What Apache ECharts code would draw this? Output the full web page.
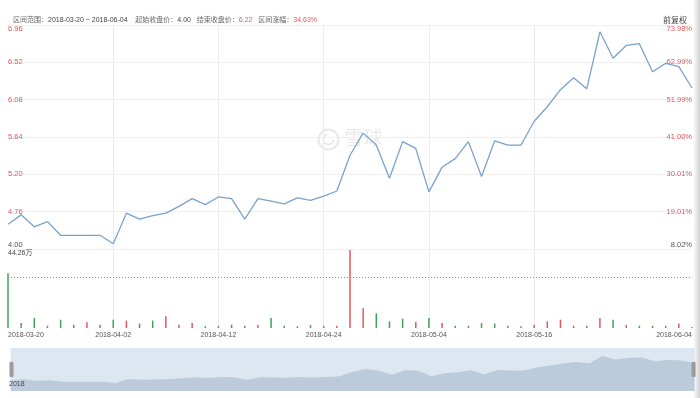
<!DOCTYPE html>
<html lang="zh-CN">
<head>
<meta charset="UTF-8">
<title>区间走势</title>
<script src="https://cdn.jsdelivr.net/npm/echarts@6/dist/echarts.min.js"></script>
<style>
  html, body { margin: 0; padding: 0; background: #fff; }
  #main { width: 700px; height: 398px; }
</style>
</head>
<body>
<div id="main"></div>
<script>
// 区间数据
var dates = [
  '2018-03-20','2018-03-21','2018-03-22','2018-03-23','2018-03-26','2018-03-27','2018-03-28','2018-03-29','2018-04-02',
  '2018-04-03','2018-04-04','2018-04-05','2018-04-06','2018-04-09','2018-04-10','2018-04-11','2018-04-12',
  '2018-04-13','2018-04-16','2018-04-17','2018-04-18','2018-04-19','2018-04-20','2018-04-23','2018-04-24',
  '2018-04-25','2018-04-26','2018-04-27','2018-04-28','2018-04-30','2018-05-02','2018-05-03','2018-05-04',
  '2018-05-07','2018-05-08','2018-05-09','2018-05-10','2018-05-11','2018-05-14','2018-05-15','2018-05-16',
  '2018-05-17','2018-05-18','2018-05-21','2018-05-22','2018-05-23','2018-05-24','2018-05-25','2018-05-28',
  '2018-05-29','2018-05-30','2018-05-31','2018-06-04'
];
var closes = [
  4.62, 4.73, 4.59, 4.65, 4.49, 4.49, 4.49, 4.49, 4.39,
  4.75, 4.68, 4.72, 4.75, 4.83, 4.92, 4.85, 4.94,
  4.92, 4.68, 4.92, 4.89, 4.86, 4.93, 4.90, 4.95,
  5.01, 5.43, 5.69, 5.55, 5.16, 5.59, 5.51, 5.00,
  5.29, 5.39, 5.59, 5.18, 5.60, 5.55, 5.55, 5.83,
  6.00, 6.20, 6.34, 6.21, 6.88, 6.57, 6.72, 6.74,
  6.41, 6.51, 6.47, 6.22
];
// 成交量（万）
var volumes = [
  31.0, 2.8, 5.7, 1.3, 4.7, 1.9, 3.2, 1.9, 4.7,
  4.2, 2.5, 4.2, 6.6, 1.9, 2.8, 1.0, 1.3,
  1.9, 1.3, 1.9, 5.7, 1.3, 1.0, 1.7, 1.3,
  1.3, 44.26, 11.2, 8.3, 3.8, 5.3, 3.4, 5.7,
  2.8, 1.3, 1.3, 2.8, 2.5, 1.3, 1.0, 1.9,
  3.8, 4.7, 1.3, 1.3, 5.7, 4.7, 1.7, 1.3,
  1.3, 1.3, 2.5, 0.6
];
// 1 = 涨（红） 0 = 跌（绿）
var volUp = [
  0, 0, 0, 1, 0, 0, 1, 0, 0,
  1, 0, 0, 1, 1, 1, 0, 1,
  0, 0, 1, 0, 0, 1, 0, 1,
  1, 1, 1, 0, 0, 0, 1, 0,
  1, 0, 1, 0, 0, 1, 0, 1,
  1, 1, 1, 0, 1, 0, 1, 0,
  0, 1, 1, 0
];
var priceTicks = ['6.96', '6.52', '6.08', '5.64', '5.20', '4.76', '4.00'];
var pctTicks = ['73.98%', '62.99%', '51.99%', '41.00%', '30.01%', '19.01%', '8.02%'];
var basePrice = 4.00;
var priceMax = 6.96;
var volMax = 44.26;
var rangeStart = '2018-03-20';
var rangeEnd = '2018-06-04';
var startClose = '4.00';
var endClose = '6.22';
var changePct = '34.63%';

var RED = '#e4575d';
var GREEN = '#3fa35a';
var FONT = '"Liberation Sans", "Noto Sans CJK SC", sans-serif';

function showLabel(idx) {
  return (idx % 8 === 0 && idx <= 40) || idx === dates.length - 1;
}
function showSplit(idx) {
  return idx % 8 === 0 && idx > 0 && idx <= 40;
}

var myChart = echarts.init(document.getElementById('main'));
myChart.setOption({
  backgroundColor: '#fff',
  animation: false,
  textStyle: { fontFamily: FONT },
  title: [
    {
      left: 8, top: 12,
      text: '{g|区间范围：}{d|' + rangeStart + ' ~ ' + rangeEnd + '}{g|    起始收盘价：}{d|' + startClose +
            '}{g|   结束收盘价：}{r|' + endClose + '}{g|   区间涨幅：}{r|' + changePct + '}',
      textStyle: {
        fontSize: 7, fontWeight: 'normal', fontFamily: FONT,
        rich: {
          g: { fontSize: 7, fontWeight: 'normal', color: '#666', fontFamily: FONT },
          d: { fontSize: 7, fontWeight: 'normal', color: '#444', fontFamily: FONT },
          r: { fontSize: 7, fontWeight: 'normal', color: RED, fontFamily: FONT }
        }
      }
    },
    {
      right: 8, top: 12,
      text: '前复权',
      textStyle: { fontSize: 8, color: '#444', fontWeight: 'normal', fontFamily: FONT }
    }
  ],
  grid: [
    { left: 8, right: 8, top: 25, height: 224 },   // 刻度网格
    { left: 8, right: 8, top: 25, height: 252 },   // 价格
    { left: 8, right: 8, top: 250, height: 78 }    // 成交量
  ],
  xAxis: [
    {
      gridIndex: 0, type: 'category', data: dates, boundaryGap: false,
      axisLine: { show: false }, axisTick: { show: false }, axisLabel: { show: false },
      splitLine: { show: true, interval: showSplit, lineStyle: { color: '#ececec', width: 1 } }
    },
    {
      gridIndex: 1, type: 'category', data: dates, boundaryGap: false, show: false
    },
    {
      gridIndex: 2, type: 'category', data: dates, boundaryGap: false,
      axisLine: { show: false }, axisTick: { show: false },
      axisLabel: {
        interval: showLabel, fontSize: 7, color: '#555', margin: 4,
        alignMinLabel: 'left', alignMaxLabel: 'right'
      },
      splitLine: { show: true, interval: showSplit, lineStyle: { color: '#ececec', width: 1 } }
    }
  ],
  yAxis: [
    {
      gridIndex: 0, type: 'value', min: 0, max: 6, interval: 1, position: 'left',
      axisLine: { show: false }, axisTick: { show: false },
      axisLabel: {
        inside: true, margin: 0, fontSize: 7.5,
        formatter: function (v) { return priceTicks[6 - v]; },
        color: function (v) { return Number(v) === 0 ? '#555' : RED; },
        verticalAlignMaxLabel: 'top', verticalAlignMinLabel: 'bottom'
      },
      splitLine: { lineStyle: { color: '#efefef', width: 1 } }
    },
    {
      gridIndex: 0, type: 'value', min: 0, max: 6, interval: 1, position: 'right',
      axisLine: { show: false }, axisTick: { show: false },
      axisLabel: {
        inside: true, margin: 0, fontSize: 7.5,
        formatter: function (v) { return pctTicks[6 - v]; },
        color: function (v) { return Number(v) === 0 ? '#555' : RED; },
        verticalAlignMaxLabel: 'top', verticalAlignMinLabel: 'bottom'
      },
      splitLine: { show: false }
    },
    {
      gridIndex: 1, type: 'value', min: basePrice, max: priceMax, show: false
    },
    {
      gridIndex: 2, type: 'value', min: 0, max: volMax, interval: volMax,
      axisLine: { show: false }, axisTick: { show: false },
      axisLabel: {
        inside: true, margin: 0, fontSize: 7, color: '#444',
        showMinLabel: false,
        formatter: function (v) { return v === volMax ? v + '万' : ''; },
        verticalAlignMaxLabel: 'top'
      },
      splitLine: { show: false }
    }
  ],
  dataZoom: [
    {
      type: 'slider', xAxisIndex: [1, 0, 2], start: 0, end: 100,
      left: 8, right: 8, top: 348, height: 43,
      backgroundColor: '#dde7f1', borderColor: 'transparent',
      fillerColor: 'rgba(0,0,0,0)',
      showDetail: false, brushSelect: false, moveHandleSize: 0,
      handleIcon: 'path://M0,0 L3,0 L3,14 L0,14 Z',
      handleSize: '33%',
      handleStyle: { color: '#9c9c9c', borderColor: '#9c9c9c' },
      dataBackground: {
        lineStyle: { opacity: 0 },
        areaStyle: { color: '#bccbdc', opacity: 1 }
      },
      selectedDataBackground: {
        lineStyle: { opacity: 0 },
        areaStyle: { color: '#bccbdc', opacity: 1 }
      },
      emphasis: { handleStyle: { color: '#9c9c9c', borderColor: '#9c9c9c' } }
    }
  ],
  series: [
    {
      name: '收盘价', type: 'line', xAxisIndex: 1, yAxisIndex: 2,
      data: closes, symbol: 'none', smooth: false,
      lineStyle: { color: '#7aa2cd', width: 1.3 },
      markLine: {
        silent: true, symbol: ['none', 'none'],
        label: { show: false },
        lineStyle: { type: [1, 2], color: '#8a8a8a', width: 1 },
        data: [{ yAxis: basePrice }]
      }
    },
    {
      name: '成交量', type: 'bar', xAxisIndex: 2, yAxisIndex: 3, barWidth: 1.5,
      data: volumes.map(function (v, i) {
        return { value: v, itemStyle: { color: volUp[i] ? RED : GREEN } };
      })
    }
  ],
  graphic: [
    {
      type: 'text', left: 9, top: 381, z: 50,
      style: { text: '2018', fontSize: 7, fill: '#444', fontFamily: FONT }
    },
    {
      type: 'group', left: 316, top: 127,
      children: [
        { type: 'circle', shape: { cx: 11, cy: 11, r: 10 }, style: { fill: 'none', stroke: 'rgba(0,0,0,0.09)', lineWidth: 2 } },
        { type: 'arc', shape: { cx: 11, cy: 11, r: 5, startAngle: 0, endAngle: Math.PI * 1.4 }, style: { fill: 'none', stroke: 'rgba(0,0,0,0.09)', lineWidth: 2 } },
        { type: 'text', x: 27, y: 0, style: { text: '雪球', fontSize: 19, fill: 'rgba(0,0,0,0.09)', fontFamily: '"Noto Sans CJK SC", sans-serif' } }
      ]
    },
    {
      type: 'rect', right: 0, top: 0, z: 100,
      shape: { width: 7, height: 398 },
      style: {
        fill: new echarts.graphic.LinearGradient(0, 0, 1, 0, [
          { offset: 0, color: 'rgba(0,0,0,0)' },
          { offset: 1, color: 'rgba(0,0,0,0.18)' }
        ])
      }
    }
  ]
});
</script>
</body>
</html>
